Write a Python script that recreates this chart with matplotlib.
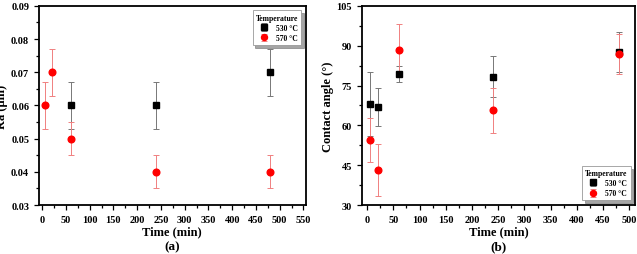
import numpy as np
import matplotlib.pyplot as plt
from matplotlib.ticker import MultipleLocator

plt.rcParams["font.family"] = ["Liberation Serif", "DejaVu Serif"]
plt.rcParams["font.weight"] = "bold"

# (a) roughness
ra_time_530 = [60, 240, 480]
ra_530 = [0.06, 0.06, 0.07]
ra_err_530 = [0.007, 0.007, 0.007]
ra_time_570 = [5, 20, 60, 240, 480]
ra_570 = [0.06, 0.07, 0.05, 0.04, 0.04]
ra_err_570 = [0.007, 0.007, 0.005, 0.005, 0.005]

# (b) contact angle
ca_time = [5, 20, 60, 240, 480]
ca_530 = [68.0, 66.8, 79.4, 78.4, 87.6]
ca_err_530 = [12.0, 7.2, 3.0, 7.8, 7.6]
ca_570 = [54.6, 43.2, 88.2, 65.7, 86.8]
ca_err_570 = [8.3, 9.7, 10.0, 8.4, 7.5]

labels = ["530 \u00b0C", "570 \u00b0C"]

fig = plt.figure(figsize=(6.37, 2.55), dpi=100)
ax_a = fig.add_axes([0.061, 0.192, 0.419, 0.781])
ax_b = fig.add_axes([0.568, 0.192, 0.429, 0.781])


def draw(ax, t1, y1, e1, t2, y2, e2):
    ax.errorbar(t1, y1, yerr=e1, fmt="s", color="black", ecolor="#777777",
                elinewidth=0.7, capsize=2, capthick=0.7, markersize=4.2,
                label=labels[0], zorder=3)
    ax.errorbar(t2, y2, yerr=e2, fmt="o", color="#ff0000", ecolor="#f08080",
                elinewidth=0.7, capsize=2, capthick=0.7, markersize=4.8,
                label=labels[1], zorder=3)
    for s in ax.spines.values():
        s.set_linewidth(1.3)
    ax.tick_params(which="both", direction="out", labelsize=7.5, width=0.9)
    ax.tick_params(which="major", length=3.5)
    ax.tick_params(which="minor", length=2)
    ax.set_xlabel("Time (min)", fontsize=9, fontweight="bold", labelpad=1)
    for lab in ax.get_xticklabels() + ax.get_yticklabels():
        lab.set_fontweight("bold")


draw(ax_a, ra_time_530, ra_530, ra_err_530, ra_time_570, ra_570, ra_err_570)
ax_a.set_xlim(-7, 555)
ax_a.set_ylim(0.03, 0.09)
ax_a.xaxis.set_major_locator(MultipleLocator(50))
ax_a.xaxis.set_minor_locator(MultipleLocator(25))
ax_a.yaxis.set_major_locator(MultipleLocator(0.01))
ax_a.yaxis.set_minor_locator(MultipleLocator(0.005))
ax_a.yaxis.set_major_formatter(plt.FormatStrFormatter("%.2f"))
ax_a.set_ylabel("Ra (\u03bcm)", fontsize=9, fontweight="bold", labelpad=2)
ax_a.text(0.5, -0.205, "(a)", transform=ax_a.transAxes, ha="center",
          va="center", fontsize=9.5, fontweight="bold")

draw(ax_b, ca_time, ca_530, ca_err_530, ca_time, ca_570, ca_err_570)
ax_b.set_xlim(-10, 511)
ax_b.set_ylim(30, 105)
ax_b.xaxis.set_major_locator(MultipleLocator(50))
ax_b.xaxis.set_minor_locator(MultipleLocator(25))
ax_b.yaxis.set_major_locator(MultipleLocator(15))
ax_b.yaxis.set_minor_locator(MultipleLocator(7.5))
ax_b.set_ylabel("Contact angle (\u00b0)", fontsize=9, fontweight="bold",
                labelpad=2)
ax_b.text(0.5, -0.205, "(b)", transform=ax_b.transAxes, ha="center",
          va="center", fontsize=9.5, fontweight="bold")

for ax, loc in [(ax_a, "upper right"), (ax_b, "lower right")]:
    leg = ax.legend(loc=loc, title="Temperature", fontsize=5.5,
                    title_fontsize=5.5, frameon=True, shadow=True,
                    fancybox=False, edgecolor="#999999", borderpad=0.4,
                    handletextpad=0.6, labelspacing=0.3, markerscale=0.9,
                    borderaxespad=0.6)
    leg.get_title().set_fontweight("bold")
    leg.get_frame().set_linewidth(0.6)

fig.savefig("out.png", dpi=100)
